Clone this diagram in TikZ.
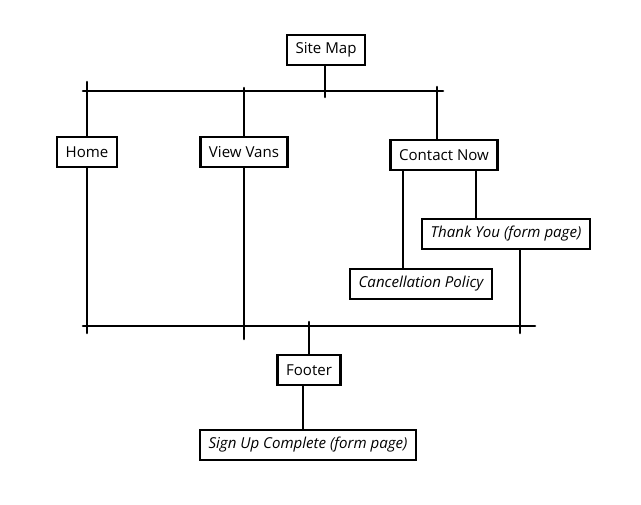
\documentclass[tikz,border=0pt]{standalone}
\usepackage{fontspec}
\setmainfont{Open Sans}
\usetikzlibrary{calc}
\tikzset{smp/.style={
  x=0.75pt,
  y=-0.75pt
}}
\tikzset{smn/.style={
  draw,
  fill=white,
  shape=rectangle,
  line width=1.9pt,
  minimum height=22.5pt,
  inner xsep=6.5pt,
  font=\fontsize{11.3}{13}\selectfont,
}}
\tikzset{smi/.style={smn,font=\fontsize{11.3}{13}\selectfont\itshape}}
\tikzset{sml/.style={line width=1.9pt,line cap=round}}

\begin{document}
\begin{tikzpicture}[smp]
    \useasboundingbox (0,0) rectangle (641,504);
    % Nodes
    \node[smn] (sitemap) at (326,50) {Site Map};
    \node[smn] (home) at (87,152) {Home};
    \node[smn] (vans) at (244,152) {View Vans};
    \node[smn] (contact) at (444,155) {Contact Now};
    \node[smi] (thanks) at (506,234) {Thank You (form page)};
    \node[smi] (cancel) at (421,284) {Cancellation Policy};
    \node[smn] (footer) at (309,370) {Footer};
    \node[smi] (signup) at (308,445) {Sign Up Complete (form page)};
    % Top bar
    \coordinate (topL) at (83,91);
    \coordinate (topR) at (443,91);
    \draw[sml] (topL) -- (topR);
    \draw[sml] ([xshift=-0.75pt]sitemap.south) -- ([xshift=-0.75pt]sitemap.south |- 0,97);
    \draw[sml] (home.north |- 0,82) -- (home.north);
    \draw[sml] (vans.north |- 0,88) -- (vans.north);
    \draw[sml] ([xshift=-5.25pt]contact.north |- 0,87) -- ([xshift=-5.25pt]contact.north);
    % Bottom bar
    \coordinate (botL) at (83,326);
    \coordinate (botR) at (535,326);
    \draw[sml] (botL) -- (botR);
    \draw[sml] (home.south) -- (home.south |- 0,333);
    \draw[sml] (vans.south) -- (vans.south |- 0,339);
    \draw[sml] ([xshift=10.5pt]thanks.south) -- ([xshift=10.5pt]thanks.south |- 0,333);
    \draw[sml] (footer.north |- 0,322) -- (footer.north);
    % Contact children
    \draw[sml] ([xshift=-30.75pt]contact.south) -- ([xshift=-30.75pt]contact.south |- cancel.north);
    \draw[sml] ([xshift=24pt]contact.south) -- ([xshift=24pt]contact.south |- thanks.north);
    % Footer child
    \draw[sml] ([xshift=-4.5pt]footer.south) -- ([xshift=-4.5pt]footer.south |- signup.north);
\end{tikzpicture}
\end{document}
